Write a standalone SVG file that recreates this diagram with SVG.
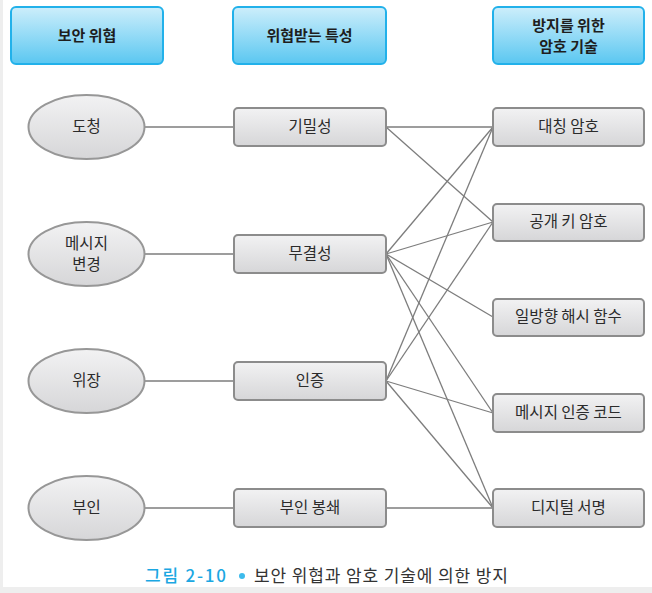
<svg xmlns="http://www.w3.org/2000/svg" width="652" height="593" viewBox="0 0 652 593">
<defs>
<linearGradient id="gBlue" x1="0" y1="0" x2="0" y2="1">
<stop offset="0" stop-color="#cdeefb"/>
<stop offset="1" stop-color="#5ac7f1"/>
</linearGradient>
<linearGradient id="gGray" x1="0" y1="0" x2="0" y2="1">
<stop offset="0" stop-color="#f2f2f3"/>
<stop offset="1" stop-color="#d6d6d8"/>
</linearGradient>
<style>
.hdr{fill:url(#gBlue);stroke:#22b1ea;stroke-width:2}
.box{fill:url(#gGray);stroke:#8c8c8c;stroke-width:2}
.ell{fill:url(#gGray);stroke:#979797;stroke-width:2}
text{font-family:"Noto Sans CJK KR","Noto Sans",sans-serif;text-anchor:middle;fill:#2b2b2b}
.ht{font-size:15px;font-weight:bold;fill:#1e1e1e}
.nt{font-size:15.5px}
.cn line{stroke:#7d7d7d;stroke-width:1.3}
</style>
</defs>
<rect width="652" height="593" fill="#ffffff"/>
<rect x="0" y="0" width="3" height="593" fill="#eeeeee"/>
<rect x="0" y="587" width="652" height="6" fill="#eeeeee"/>

<g id="connectors" class="cn">
<line x1="145" y1="127" x2="233" y2="127"/>
<line x1="145" y1="254" x2="233" y2="254"/>
<line x1="145" y1="381" x2="233" y2="381"/>
<line x1="145" y1="508" x2="233" y2="508"/>
<line x1="386" y1="127" x2="493" y2="127"/>
<line x1="386" y1="127" x2="493" y2="222"/>
<line x1="386" y1="254" x2="493" y2="127"/>
<line x1="386" y1="254" x2="493" y2="222"/>
<line x1="386" y1="254" x2="493" y2="317"/>
<line x1="386" y1="254" x2="493" y2="413"/>
<line x1="386" y1="254" x2="493" y2="508"/>
<line x1="386" y1="381" x2="493" y2="127"/>
<line x1="386" y1="381" x2="493" y2="222"/>
<line x1="386" y1="381" x2="493" y2="413"/>
<line x1="386" y1="381" x2="493" y2="508"/>
<line x1="386" y1="508" x2="493" y2="508"/>
</g>

<g id="h1"><rect class="hdr" x="11" y="7" width="152" height="57" rx="5"/><text class="ht" x="87" y="41">보안 위협</text></g>
<g id="h2"><rect class="hdr" x="233" y="7" width="153" height="57" rx="5"/><text class="ht" x="309.5" y="41">위협받는 특성</text></g>
<g id="h3"><rect class="hdr" x="493" y="7" width="151" height="57" rx="5"/><text class="ht" x="568.5" y="31">방지를 위한</text><text class="ht" x="568.5" y="52">암호 기술</text></g>

<g id="e1"><ellipse class="ell" cx="86.5" cy="127" rx="58" ry="32"/><text class="nt" x="86.5" y="132">도청</text></g>
<g id="e2"><ellipse class="ell" cx="86.5" cy="254" rx="58" ry="32"/><text class="nt" x="86.5" y="249">메시지</text><text class="nt" x="86.5" y="270">변경</text></g>
<g id="e3"><ellipse class="ell" cx="86.5" cy="381" rx="58" ry="32"/><text class="nt" x="86.5" y="386">위장</text></g>
<g id="e4"><ellipse class="ell" cx="86.5" cy="508" rx="58" ry="32"/><text class="nt" x="86.5" y="513">부인</text></g>

<g id="p1"><rect class="box" x="234" y="108" width="152" height="38" rx="4"/><text class="nt" x="310" y="132">기밀성</text></g>
<g id="p2"><rect class="box" x="234" y="235" width="152" height="38" rx="4"/><text class="nt" x="310" y="259">무결성</text></g>
<g id="p3"><rect class="box" x="234" y="362" width="152" height="38" rx="4"/><text class="nt" x="310" y="386">인증</text></g>
<g id="p4"><rect class="box" x="234" y="489" width="152" height="38" rx="4"/><text class="nt" x="310" y="513">부인 봉쇄</text></g>

<g id="t1"><rect class="box" x="493" y="108" width="151" height="38" rx="4"/><text class="nt" x="568.5" y="132">대칭 암호</text></g>
<g id="t2"><rect class="box" x="493" y="204" width="151" height="37" rx="4"/><text class="nt" x="568.5" y="227">공개 키 암호</text></g>
<g id="t3"><rect class="box" x="493" y="299" width="151" height="37" rx="4"/><text class="nt" x="568.5" y="322">일방향 해시 함수</text></g>
<g id="t4"><rect class="box" x="493" y="394" width="151" height="38" rx="4"/><text class="nt" x="568.5" y="418">메시지 인증 코드</text></g>
<g id="t5"><rect class="box" x="493" y="489" width="151" height="38" rx="4"/><text class="nt" x="568.5" y="513">디지털 서명</text></g>

<g id="caption">
<text x="145" y="582" textLength="81" lengthAdjust="spacing" style="text-anchor:start;font-size:17px;font-weight:500;fill:#1ba7e2">그림 2-10</text>
<circle cx="242" cy="576" r="3" fill="#3dbbec"/>
<text x="254" y="582" textLength="254" lengthAdjust="spacing" style="text-anchor:start;font-size:17px;fill:#333">보안 위협과 암호 기술에 의한 방지</text>
</g>
</svg>
